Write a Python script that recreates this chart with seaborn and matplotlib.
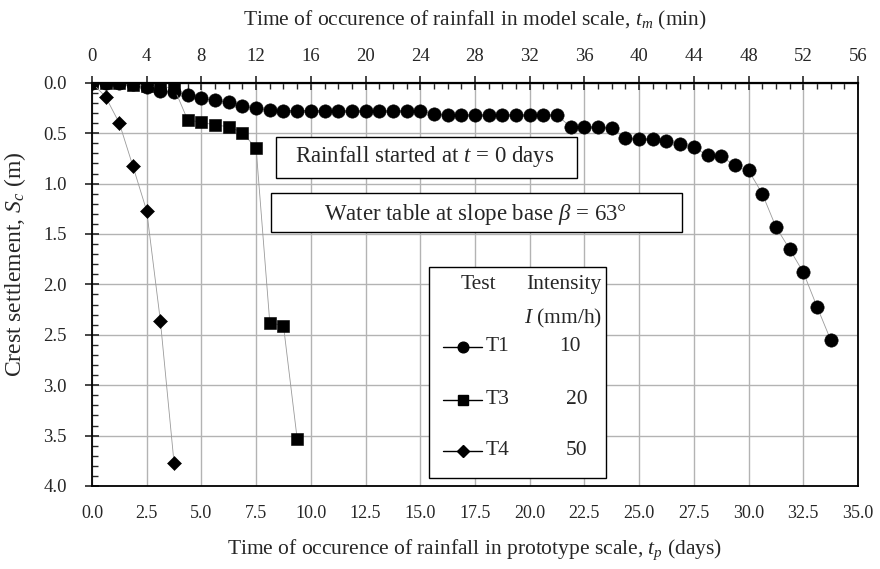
import numpy as np
import pandas as pd
import matplotlib
matplotlib.use("Agg")
import matplotlib.pyplot as plt
import seaborn as sns
from matplotlib.patches import Rectangle
from matplotlib.lines import Line2D
from matplotlib.ticker import MultipleLocator, FormatStrFormatter

# time of rainfall in model scale (min) and crest settlement (m)
t1_min = list(range(0, 55))
t1_sc = [0.0, 0.0, 0.0, 0.01, 0.045, 0.08, 0.09, 0.12, 0.155, 0.175,
         0.19, 0.23, 0.25, 0.27, 0.275, 0.275, 0.275, 0.28, 0.28, 0.28,
         0.28, 0.28, 0.28, 0.28, 0.28, 0.31, 0.32, 0.32, 0.32, 0.32,
         0.32, 0.32, 0.32, 0.32, 0.32, 0.44, 0.44, 0.44, 0.45, 0.55,
         0.56, 0.56, 0.58, 0.61, 0.64, 0.72, 0.73, 0.82, 0.87, 1.10,
         1.43, 1.65, 1.88, 2.22, 2.55]

t3_min = list(range(0, 16))
t3_sc = [0.0, 0.0, 0.0, 0.02, 0.03, 0.04, 0.05, 0.37, 0.39, 0.42,
         0.435, 0.495, 0.65, 2.38, 2.41, 3.53]

t4_min = list(range(0, 7))
t4_sc = [0.0, 0.14, 0.40, 0.83, 1.27, 2.36, 3.77]

tests = ["T1", "T3", "T4"]
intensity = ["10", "20", "50"]
markers = {"T1": "o", "T3": "s", "T4": "D"}
msizes = {"T1": 9.6, "T3": 8.8, "T4": 7.4}

# model scale -> prototype scale (56 min <-> 35 days)
MIN_TO_DAYS = 35.0 / 56.0

df = pd.concat([
    pd.DataFrame({"t_m": t1_min, "Sc": t1_sc, "test": "T1"}),
    pd.DataFrame({"t_m": t3_min, "Sc": t3_sc, "test": "T3"}),
    pd.DataFrame({"t_m": t4_min, "Sc": t4_sc, "test": "T4"}),
], ignore_index=True)

sns.set_style("white")
plt.rcParams["font.family"] = ["Liberation Serif", "DejaVu Serif"]
plt.rcParams["mathtext.fontset"] = "custom"
plt.rcParams["mathtext.rm"] = "Liberation Serif"
plt.rcParams["mathtext.it"] = "Liberation Serif:italic"
plt.rcParams["mathtext.bf"] = "Liberation Serif:bold"

fig = plt.figure(figsize=(8.8, 5.69), dpi=100)
ax = fig.add_axes([0.1045, 0.1459, 0.8705, 0.7086])

for name in tests:
    sub = df[df["test"] == name]
    sns.lineplot(data=sub, x="t_m", y="Sc", ax=ax, sort=False,
                 color="#9a9a9a", lw=0.6, marker=markers[name],
                 markersize=msizes[name], markerfacecolor="black",
                 markeredgecolor="black", markeredgewidth=0.4,
                 legend=False, errorbar=None)

ax.set_xlim(0, 56)
ax.set_ylim(4.0, 0.0)

# top axis: model scale (min)
ax.xaxis.tick_top()
ax.xaxis.set_label_position("top")
ax.xaxis.set_major_locator(MultipleLocator(4))
ax.xaxis.set_minor_locator(MultipleLocator(1))
ax.yaxis.set_major_locator(MultipleLocator(0.5))
ax.yaxis.set_minor_locator(MultipleLocator(0.1))
ax.yaxis.set_major_formatter(FormatStrFormatter("%.1f"))

ax.tick_params(axis="x", which="major", direction="inout", length=10,
               width=1.2, labelsize=13.5, pad=8, top=True, bottom=False)
ax.tick_params(axis="x", which="minor", direction="in", length=4,
               width=1.0, top=True, bottom=False)
ax.tick_params(axis="y", which="major", direction="inout", length=10,
               width=1.2, labelsize=13.5, pad=13, left=True, right=False)
ax.tick_params(axis="y", which="minor", direction="in", length=4,
               width=1.0, left=True, right=False)

ax.set_xlabel(r"Time of occurence of rainfall in model scale, $t_m$ (min)",
              fontsize=15.5, labelpad=16)
ax.set_ylabel(r"Crest settlement, $S_c$ (m)", fontsize=17)
ax.yaxis.set_label_coords(-0.083, 0.55)

# bottom axis: prototype scale (days)
secax = ax.secondary_xaxis("bottom", functions=(lambda m: m * MIN_TO_DAYS,
                                                lambda d: d / MIN_TO_DAYS))
secax.xaxis.set_major_locator(MultipleLocator(2.5))
secax.xaxis.set_major_formatter(FormatStrFormatter("%.1f"))
secax.tick_params(axis="x", which="both", length=0, labelsize=13, pad=14)
secax.spines["bottom"].set_visible(False)
secax.set_xlabel(r"Time of occurence of rainfall in prototype scale, $t_p$ (days)",
                 fontsize=15.5, labelpad=11)

ax.grid(True, which="major", color="#b3b3b3", lw=1.0)
ax.set_axisbelow(True)
for s in ax.spines.values():
    s.set_visible(True)
    s.set_color("black")
    s.set_linewidth(1.3)
ax.spines["top"].set_linewidth(1.6)

# annotation boxes
ax.add_patch(Rectangle((0.240, 0.764), 0.393, 0.102, transform=ax.transAxes,
                       facecolor="white", edgecolor="black", lw=1.0, zorder=5))
ax.text(0.4347, 0.818, r"Rainfall started at $t$ = 0 days", transform=ax.transAxes,
        ha="center", va="center", fontsize=16.5, zorder=6)
ax.add_patch(Rectangle((0.2337, 0.631), 0.5363, 0.095, transform=ax.transAxes,
                       facecolor="white", edgecolor="black", lw=1.0, zorder=5))
ax.text(0.501, 0.674, r"Water table at slope base $\beta$ = 63°", transform=ax.transAxes,
        ha="center", va="center", fontsize=16.5, zorder=6)

# legend table
ax.add_patch(Rectangle((0.44, 0.019), 0.231, 0.525, transform=ax.transAxes,
                       facecolor="white", edgecolor="black", lw=1.0, zorder=5))
ax.text(0.504, 0.4985, "Test", transform=ax.transAxes, ha="center",
        va="center", fontsize=15.5, zorder=6)
ax.text(0.616, 0.4985, "Intensity", transform=ax.transAxes, ha="center",
        va="center", fontsize=15.5, zorder=6)
ax.text(0.6145, 0.416, r"$I$ (mm/h)", transform=ax.transAxes, ha="center",
        va="center", fontsize=15.5, zorder=6)
row_y = [0.3455, 0.2133, 0.0868]
val_x = [0.624, 0.6328, 0.6328]
for name, val, yy, vx in zip(tests, intensity, row_y, val_x):
    ax.add_line(Line2D([0.4582, 0.5087], [yy, yy], transform=ax.transAxes,
                       color="black", lw=1.0, zorder=6))
    ax.add_line(Line2D([0.484], [yy], transform=ax.transAxes, color="black",
                       marker=markers[name], markersize=msizes[name] * 0.8,
                       zorder=7))
    ax.text(0.5144, yy, name, transform=ax.transAxes, ha="left",
            va="center", fontsize=15.5, zorder=6)
    ax.text(vx, yy, val, transform=ax.transAxes, ha="center",
            va="center", fontsize=15.5, zorder=6)

fig.savefig("out.png", dpi=100)
